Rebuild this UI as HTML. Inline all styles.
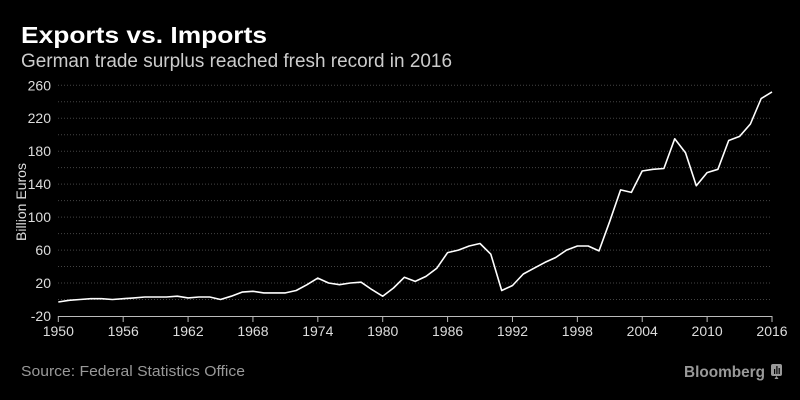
<!DOCTYPE html>
<html><head><meta charset="utf-8"><style>
html,body{margin:0;padding:0;background:#000;}
svg{display:block;font-family:"Liberation Sans",sans-serif;}
</style></head><body>
<svg id="s" width="800" height="400" viewBox="0 0 800 400">
<rect width="800" height="400" fill="#000"/>
<text x="21" y="43" fill="#fff" font-size="23" font-weight="bold" textLength="246" lengthAdjust="spacingAndGlyphs">Exports vs. Imports</text>
<text x="21" y="67" fill="#ccc" font-size="19" textLength="431" lengthAdjust="spacingAndGlyphs">German trade surplus reached fresh record in 2016</text>
<text transform="translate(26,202) rotate(-90)" fill="#ddd" font-size="14" text-anchor="middle" textLength="78" lengthAdjust="spacingAndGlyphs">Billion Euros</text>
<g id="grid"></g>
<polyline id="line" fill="none" stroke="#fff" stroke-width="1.6" stroke-linejoin="round"/>
<text x="21" y="376" fill="#999" font-size="15" textLength="224" lengthAdjust="spacingAndGlyphs">Source: Federal Statistics Office</text>
<text x="684" y="377" fill="#999" font-size="16" font-weight="bold" textLength="81" lengthAdjust="spacingAndGlyphs">Bloomberg</text>
<rect x="771" y="364" width="11" height="12" rx="2" fill="#999"/>
<path d="M776.5 376 l-2 3 h4 z" fill="#999"/>
<rect x="774" y="369" width="1.2" height="5" fill="#000"/><rect x="776.3" y="366" width="1.2" height="8" fill="#000"/><rect x="778.6" y="368" width="1.2" height="6" fill="#000"/>
</svg>
<script>
var x0=58.3,x1=772,y0=316,sc=0.824;
function X(y){return x0+(y-1950)*(x1-x0)/66;}
function Y(v){return y0-(v+20)*sc;}
var g=document.getElementById('grid'),h='';
for(var v=0;v<=260;v+=20){h+='<line x1="58" x2="772" y1="'+Y(v)+'" y2="'+Y(v)+'" stroke="#444" stroke-width="1" stroke-dasharray="1,2"/>';}
for(var v=-20;v<=260;v+=40){h+='<text x="51" y="'+(Y(v)+5)+'" fill="#ddd" font-size="14" text-anchor="end">'+v+'</text>';}
h+='<line x1="58" x2="772" y1="316.5" y2="316.5" stroke="#bbb" stroke-width="1"/>';
for(var yr=1950;yr<=2016;yr+=6){var xx=X(yr);h+='<line x1="'+xx+'" x2="'+xx+'" y1="316" y2="322" stroke="#bbb"/><text x="'+xx+'" y="336" fill="#ddd" font-size="14" text-anchor="middle">'+yr+'</text>';}
g.innerHTML=h;
var d=[-3,-1,0,1,1,0,1,2,3,3,3,4,2,3,3,0,4,9,10,8,8,8,11,18,26,20,18,20,21,12,4,14,27,22,28,38,57,60,65,68,55,11,17,31,38,45,51,60,65,65,59,95,133,130,156,158,159,195,178,138,154,158,193,198,213,244,252];
var p=[];for(var i=0;i<d.length;i++)p.push(X(1950+i).toFixed(1)+','+Y(d[i]).toFixed(1));
document.getElementById('line').setAttribute('points',p.join(' '));
</script>
</body></html>
